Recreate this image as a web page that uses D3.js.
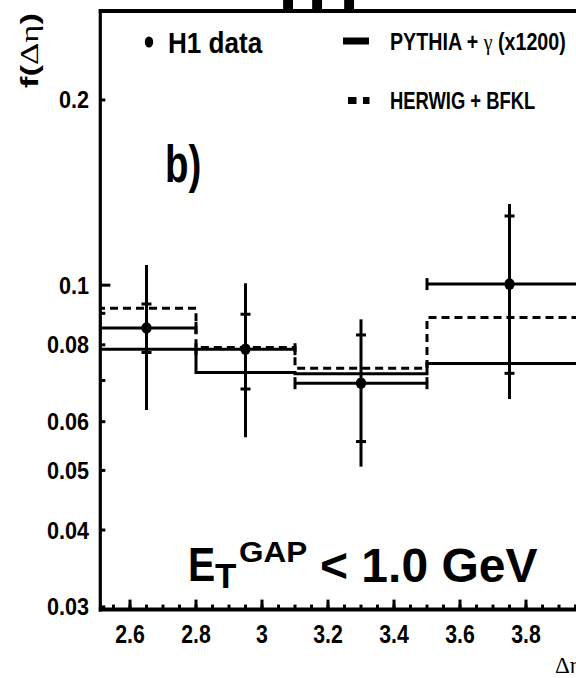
<!DOCTYPE html>
<html><head><meta charset="utf-8">
<script src="https://cdn.jsdelivr.net/npm/d3@7"></script>
<style>body{margin:0;background:#fff}svg{display:block}</style>
</head><body>
<svg id="c" width="576" height="678"></svg>
<script>
// ---- data ----
const binEdges = [2.5, 2.8, 3.1, 3.5, 4.0];
const dataX    = [2.65, 2.95, 3.3, 3.75];
const dataY    = [0.0852, 0.0787, 0.0693, 0.1004];
const statLo   = [0.0777, 0.0678, 0.0557, 0.0719];
const statHi   = [0.0932, 0.0897, 0.0830, 0.1296];
const totLo    = [0.0627, 0.0566, 0.0507, 0.0653];
const totHi    = [0.1078, 0.1007, 0.0880, 0.1355];
const pythia   = [0.0787, 0.0721, 0.0718, 0.0746];
const herwig   = [0.0917, 0.0792, 0.0733, 0.0886];
const yTickVals   = [0.03, 0.04, 0.05, 0.06, 0.08, 0.1, 0.2];
const yTickLabels = ["0.03", "0.04", "0.05", "0.06", "0.08", "0.1", "0.2"];
const yMinorVals  = [0.07, 0.09];
const xTickVals   = [2.6, 2.8, 3.0, 3.2, 3.4, 3.6, 3.8, 4.0];
const xTickLabels = ["2.6", "2.8", "3", "3.2", "3.4", "3.6", "3.8", ""];
const topMarks    = [3.064, 3.152, 3.249]; // fragments of upper panel

const FONT = '"Liberation Sans", Arial, Helvetica, sans-serif';
const SERIF = '"Liberation Serif", "Times New Roman", serif';

const svg = d3.select('#c');
const x = d3.scaleLinear().domain([2.51, 4.2]).range([100.3, 658]);
const y = d3.scaleLog().domain([0.0297, 0.279]).range([609.6, 11]);

svg.append('defs').append('clipPath').attr('id','clip')
  .append('rect').attr('x', x(2.51)).attr('y', y(0.279)).attr('width', x(4.2)-x(2.51)).attr('height', y(0.0297)-y(0.279));

function txt(parent, tx, ty, str, size, sx, opts) {
  opts = opts || {};
  return parent.append('text')
    .attr('transform', `translate(${tx},${ty}) scale(${sx},1)`)
    .attr('font-family', opts.family || FONT)
    .attr('font-weight', opts.weight || 'bold')
    .attr('font-size', size)
    .attr('text-anchor', opts.anchor || 'start')
    .attr('fill', '#000')
    .text(str);
}

// fragments at top
svg.selectAll('rect.top').data(topMarks).enter().append('rect')
  .attr('x', d => x(d)).attr('y', 0).attr('width', x(0.03) - x(0)).attr('height', y(0.279))
  .attr('fill', '#000');

const plot = svg.append('g').attr('clip-path', 'url(#clip)');

// histograms
const stepPts = vals => vals.map((v, i) => [binEdges[i], v]).concat([[binEdges[vals.length], vals[vals.length - 1]]]);
const line = d3.line().x(d => x(d[0])).y(d => y(d[1])).curve(d3.curveStepAfter);
plot.append('path').attr('d', line(stepPts(herwig))).attr('fill', 'none')
  .attr('stroke', '#000').attr('stroke-width', 3).attr('stroke-dasharray', '8,5');
plot.append('path').attr('d', line(stepPts(pythia))).attr('fill', 'none')
  .attr('stroke', '#000').attr('stroke-width', 3);

// data points
dataX.forEach((dx, i) => {
  const g = plot.append('g').attr('stroke', '#000').attr('stroke-width', 3);
  const cy = y(dataY[i]), cx = x(dx);
  const x0 = x(binEdges[i]), x1 = x(binEdges[i + 1]);
  g.append('line').attr('x1', x0).attr('x2', x1).attr('y1', cy).attr('y2', cy);
  [x0, x1].forEach(xx => g.append('line').attr('x1', xx).attr('x2', xx).attr('y1', cy - 6).attr('y2', cy + 6));
  g.append('line').attr('x1', cx).attr('x2', cx).attr('y1', y(totLo[i])).attr('y2', y(totHi[i]));
  [statLo[i], statHi[i]].forEach(v => g.append('line').attr('x1', cx - 5).attr('x2', cx + 5).attr('y1', y(v)).attr('y2', y(v)));
  plot.append('ellipse').attr('cx', cx).attr('cy', cy).attr('rx', 5.2).attr('ry', 5.8).attr('fill', '#000');
});

// axes frame
const ax = svg.append('g').attr('stroke', '#000');
ax.append('line').attr('x1', x(2.51)).attr('x2', x(2.51)).attr('y1', y(0.279) - 2).attr('y2', y(0.0297) + 2).attr('stroke-width', 3.2);
ax.append('line').attr('x1', x(2.51) - 1.5).attr('x2', 660).attr('y1', y(0.279)).attr('y2', y(0.279)).attr('stroke-width', 3.8);
ax.append('line').attr('x1', x(2.51) - 1.5).attr('x2', 660).attr('y1', y(0.0297)).attr('y2', y(0.0297)).attr('stroke-width', 4);

// y ticks
yTickVals.forEach((v, i) => {
  const len = v === 0.1 ? 10 : 5;
  ax.append('line').attr('x1', x(2.51)).attr('x2', x(2.51) + len).attr('y1', y(v)).attr('y2', y(v)).attr('stroke-width', 3);
  txt(svg, 89, y(v) + 8.5, yTickLabels[i], 24, 0.9, {anchor: 'end'});
});
yMinorVals.forEach(v => {
  ax.append('line').attr('x1', x(2.51)).attr('x2', x(2.51) + 5).attr('y1', y(v)).attr('y2', y(v)).attr('stroke-width', 3);
});

// x ticks
const yb = y(0.0297);
d3.range(2.55, 4.2, 0.05).forEach(v => {
  ax.append('line').attr('x1', x(v)).attr('x2', x(v)).attr('y1', yb).attr('y2', yb - 5).attr('stroke-width', 3);
});
xTickVals.forEach((v, i) => {
  ax.append('line').attr('x1', x(v)).attr('x2', x(v)).attr('y1', yb).attr('y2', yb - 10).attr('stroke-width', 3);
  if (xTickLabels[i]) txt(svg, x(v), 643, xTickLabels[i], 25, 0.85, {anchor: 'middle'});
});

// axis titles
svg.append('text').attr('x', 555).attr('y', 673).attr('font-family', SERIF).attr('font-size', 23).text('\u0394\u03B7');
const yt = svg.append('text').attr('transform', 'translate(38,88) rotate(-90) scale(1,0.82)')
  .attr('font-size', 30).attr('textLength', 75).attr('lengthAdjust', 'spacingAndGlyphs');
yt.append('tspan').attr('font-family', FONT).attr('font-weight', 'bold').text('f(');
yt.append('tspan').attr('font-family', SERIF).text('\u0394\u03B7');
yt.append('tspan').attr('font-family', FONT).attr('font-weight', 'bold').text(')');

// legend
svg.append('ellipse').attr('cx', 149).attr('cy', 42).attr('rx', 4.2).attr('ry', 5.5).attr('fill', '#000');
txt(svg, 168, 53, 'H1 data', 30, 0.87);
svg.append('line').attr('x1', 343).attr('x2', 369).attr('y1', 41).attr('y2', 41).attr('stroke', '#000').attr('stroke-width', 7);
const lp = svg.append('text').attr('transform', 'translate(390,50) scale(0.82,1)')
  .attr('font-family', FONT).attr('font-weight', 'bold').attr('font-size', 24);
lp.append('tspan').text('PYTHIA + ');
lp.append('tspan').attr('font-family', SERIF).attr('font-weight', 'normal').text('\u03B3');
lp.append('tspan').text(' (x1200)');
svg.append('rect').attr('x', 348).attr('y', 97).attr('width', 8.5).attr('height', 7).attr('fill', '#000');
svg.append('rect').attr('x', 363).attr('y', 97).attr('width', 6.5).attr('height', 7).attr('fill', '#000');
txt(svg, 390, 109, 'HERWIG + BFKL', 23, 0.8);

// annotations
txt(svg, 165, 182, 'b)', 52, 0.74);
txt(svg, 188, 581, 'E', 48, 0.85);
txt(svg, 215, 588, 'T', 35, 1.0);
txt(svg, 239, 562, 'GAP', 30, 1.05);
txt(svg, 320, 582, '< 1.0 GeV', 48, 1.0);
</script>
</body></html>
